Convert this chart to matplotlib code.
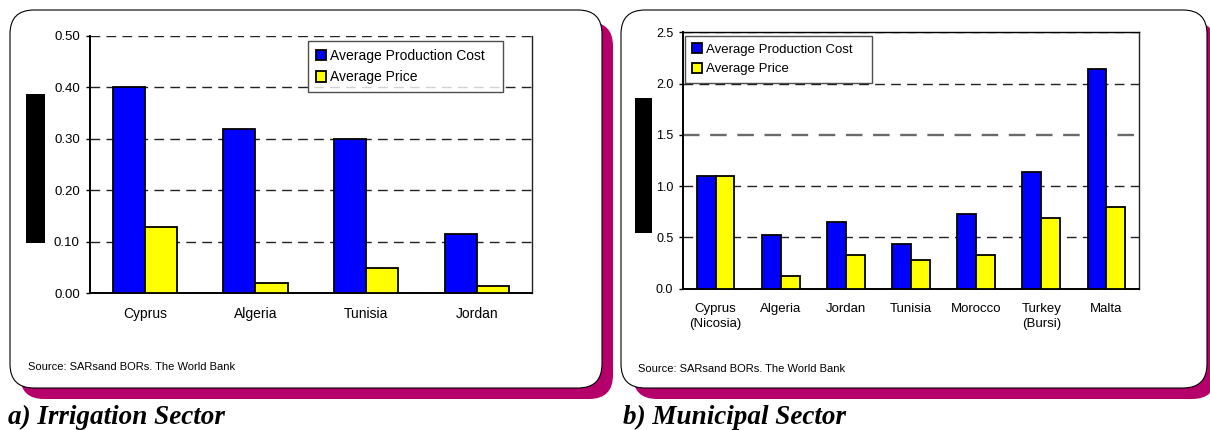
import numpy as np
import matplotlib
matplotlib.use("Agg")
import matplotlib.pyplot as plt
from matplotlib.patches import FancyBboxPatch, Rectangle

# ---------------- data ----------------
irr_countries = ["Cyprus", "Algeria", "Tunisia", "Jordan"]
irr_cost = [0.40, 0.32, 0.30, 0.115]
irr_price = [0.128, 0.02, 0.048, 0.013]
irr_yticks = [0.0, 0.1, 0.2, 0.3, 0.4, 0.5]

mun_countries = ["Cyprus\n(Nicosia)", "Algeria", "Jordan", "Tunisia", "Morocco",
                 "Turkey\n(Bursi)", "Malta"]
mun_cost = [1.10, 0.52, 0.65, 0.44, 0.725, 1.14, 2.14]
mun_price = [1.10, 0.125, 0.33, 0.28, 0.33, 0.69, 0.80]
mun_yticks = [0.0, 0.5, 1.0, 1.5, 2.0, 2.5]

legend_labels = ["Average Production Cost", "Average Price"]
source_text = "Source: SARsand BORs. The World Bank"
captions = ["a) Irrigation Sector", "b) Municipal Sector"]

# ---------------- style ----------------
W, H = 1210, 430
BLUE = "#0000FF"
YELLOW = "#FFFF00"
MAGENTA = "#B5006B"
FONT = ["Liberation Sans", "DejaVu Sans"]
plt.rcParams["font.family"] = FONT

fig = plt.figure(figsize=(W / 100, H / 100), dpi=100)

def frac(x0, y0, x1, y1):
    """pixel box (top-left origin) -> figure fraction rect"""
    return [x0 / W, 1 - y1 / H, (x1 - x0) / W, (y1 - y0) / H]

# background panels
bg = fig.add_axes([0, 0, 1, 1], zorder=0)
bg.set_xlim(0, W)
bg.set_ylim(0, H)
bg.axis("off")

def panel(x0, y0, x1, y1, sx1, sy1, sx0):
    # shadow
    bg.add_patch(FancyBboxPatch((sx0, H - sy1), sx1 - sx0, sy1 - (y0 + 12),
                                boxstyle="round,pad=0,rounding_size=24",
                                facecolor=MAGENTA, edgecolor="none"))
    bg.add_patch(FancyBboxPatch((x0, H - y1), x1 - x0, y1 - y0,
                                boxstyle="round,pad=0,rounding_size=24",
                                facecolor="white", edgecolor="black", lw=0.8))

panel(10, 10, 602, 388, 613, 399, 20)
panel(621, 10, 1207, 388, 1216, 399, 633)

# black blocks left of the y axes
bg.add_patch(Rectangle((26, H - 243), 19, 149, facecolor="black", edgecolor="none"))
bg.add_patch(Rectangle((635, H - 233), 17, 135, facecolor="black", edgecolor="none"))

def draw_chart(rect, cats, cost, price, yticks, fmt, tick_fs, cat_fs, leg_fs,
               leg_anchor, grid_thick=None, top_spine=False):
    ax = fig.add_axes(rect, zorder=2)
    n = len(cats)
    x = np.arange(n)
    w = 0.29
    ax.bar(x - w / 2, cost, w, color=BLUE, edgecolor="black", linewidth=1.3,
           zorder=3, label=legend_labels[0])
    ax.bar(x + w / 2, price, w, color=YELLOW, edgecolor="black", linewidth=1.3,
           zorder=3, label=legend_labels[1])
    ax.set_xlim(-0.5, n - 0.5)
    ax.set_ylim(yticks[0], yticks[-1])
    ax.set_yticks(yticks)
    ax.set_yticklabels([fmt.format(v) for v in yticks], fontsize=tick_fs)
    ax.set_xticks(x)
    ax.set_xticklabels(cats, fontsize=cat_fs, linespacing=1.35, va="top")
    ax.tick_params(axis="x", length=0, pad=10)
    ax.tick_params(axis="y", length=3, width=1, direction="out", pad=4)
    for v in yticks[1:]:
        lw = 1.0
        col = "#222222"
        if grid_thick is not None and v == grid_thick:
            lw, col = 1.7, "#6a6a6a"
        ax.axhline(v, color=col, lw=lw, dashes=(7, 4.5), zorder=1)
    ax.spines["left"].set_linewidth(1.4)
    ax.spines["bottom"].set_linewidth(1.4)
    ax.spines["right"].set_linewidth(1.0)
    ax.spines["right"].set_color("#222222")
    if top_spine:
        ax.spines["top"].set_linewidth(1.0)
    else:
        ax.spines["top"].set_visible(False)
    leg = ax.legend(loc="upper left", bbox_to_anchor=leg_anchor,
                    bbox_transform=fig.transFigure, mode="expand",
                    borderaxespad=0, fancybox=False, shadow=False,
                    frameon=True, fontsize=leg_fs, handlelength=0.75,
                    handleheight=0.75, handletextpad=0.3, labelspacing=0.55,
                    borderpad=0.55)
    leg.get_frame().set_edgecolor("#222222")
    leg.get_frame().set_linewidth(1.0)
    leg.set_zorder(5)
    return ax

# left chart
draw_chart(frac(89.5, 36, 532, 293), irr_countries, irr_cost, irr_price,
           irr_yticks, "{:.2f}", 9.5, 10, 10,
           (308 / W, 1 - 94 / H, 195 / W, 53 / H))
# right chart
draw_chart(frac(683, 32.3, 1139, 288.7), mun_countries, mun_cost, mun_price,
           mun_yticks, "{:.1f}", 9, 9.5, 9.5,
           (685 / W, 1 - 83 / H, 187 / W, 47 / H), grid_thick=1.5, top_spine=True)

# source notes
fig.text(28 / W, 1 - 367 / H, source_text, fontsize=8, va="center", ha="left")
fig.text(638 / W, 1 - 369 / H, source_text, fontsize=8, va="center", ha="left")

# captions
for xp, cap in zip([8, 623], captions):
    fig.text(xp / W, 1 - 423.5 / H, cap, fontsize=19.5, va="baseline", ha="left",
             family=["Liberation Serif", "DejaVu Serif"], weight="bold",
             style="italic")

fig.savefig("out.png", dpi=100)
